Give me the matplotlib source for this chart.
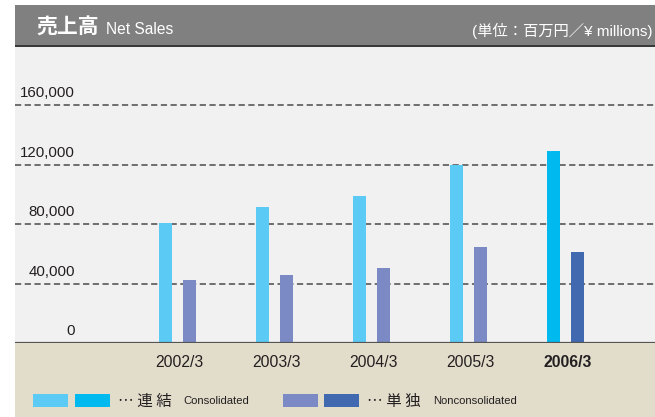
import matplotlib

matplotlib.use("Agg")
import matplotlib.pyplot as plt
from matplotlib.patches import Rectangle
from matplotlib.transforms import blended_transform_factory

# values (¥ millions)
years = ["2002/3", "2003/3", "2004/3", "2005/3", "2006/3"]
consolidated = [80500, 91500, 99000, 119500, 129000]
nonconsolidated = [42300, 45700, 50400, 64500, 61200]
y_ticks = [0, 40000, 80000, 120000, 160000]

CJK = ["Noto Sans CJK JP", "DejaVu Sans"]
LATIN = ["Liberation Sans", "Noto Sans CJK JP", "DejaVu Sans"]
TEXT = "#231f20"
CONS, CONS_LAST = "#5bcbf5", "#00b9ef"
NON, NON_LAST = "#7b8ac4", "#4169b0"

W, H = 655, 417
fig = plt.figure(figsize=(W / 100, H / 100), dpi=100)
fig.patch.set_facecolor("white")


def box(x0, y0, x1, y1):
    """Pixel box (top-left origin) -> figure fractions [l, b, w, h]."""
    return [x0 / W, 1 - y1 / H, (x1 - x0) / W, (y1 - y0) / H]


def add_rect(x0, y0, x1, y1, color, z=-1):
    l, b, w, h = box(x0, y0, x1, y1)
    fig.patches.append(Rectangle((l, b), w, h, transform=fig.transFigure,
                                 facecolor=color, edgecolor="none", zorder=z))


def fy(y):
    return 1 - y / H


# header band, plot panel and footer band
add_rect(15, 5, W, 45, "#808080")
add_rect(15, 44.5, W, 46.5, "#3a3a3a")
add_rect(15, 46.5, W, 343, "#f1f1f1")
add_rect(15, 343, W, H, "#e2dccb")

fig.text(36 / W, fy(27.5), "売上高", family=CJK, fontsize=15, weight="bold",
         color="white", va="center")
fig.text(106 / W, fy(29), "Net Sales", family=LATIN, fontsize=11.2,
         color="white", va="center")
fig.text(653 / W, fy(31), "(単位：百万円／¥ millions)", family=LATIN,
         fontsize=11, color="white", va="center", ha="right")

ax = fig.add_axes(box(15, 46.5, W, 343))
ax.set_facecolor("none")
for side in ax.spines.values():
    side.set_visible(False)

spacing_px = 97.0
first_px = 177.5
left = -(first_px - 15) / spacing_px
ax.set_xlim(left, left + 640 / spacing_px)
ax.set_ylim(0, 296.5 / 59.5 * 40000)
ax.set_xticks([])
ax.set_yticks([])

trans = blended_transform_factory(fig.transFigure, ax.transData)
for t in y_ticks:
    if t > 0:
        ax.axhline(t, color="#6e6e6e", linewidth=1.4, linestyle=(0, (3.2, 1.8)), zorder=1)
    ax.annotate(f"{t:,}", xy=(75 / W, t), xycoords=trans, xytext=(0, 8.5),
                textcoords="offset points", ha="right", va="center",
                family=LATIN, fontsize=10.8, color=TEXT)
ax.axhline(0, color="#555555", linewidth=1.6, zorder=3)

width = 13 / spacing_px
offset = 12 / spacing_px
last = len(years) - 1
for i, (c, n) in enumerate(zip(consolidated, nonconsolidated)):
    ax.bar(i - offset, c, width=width, color=CONS_LAST if i == last else CONS, zorder=2)
    ax.bar(i + offset, n, width=width, color=NON_LAST if i == last else NON, zorder=2)
    ax.annotate(years[i], xy=(i + 2 / spacing_px, 0), xycoords="data",
                xytext=(0, -14), textcoords="offset points", ha="center", va="center",
                family=LATIN, fontsize=11.3, color=TEXT,
                weight="bold" if i == last else "normal", annotation_clip=False)

# legend along the footer
for x0, col in [(33, CONS), (75, CONS_LAST), (283, NON), (324, NON_LAST)]:
    add_rect(x0, 394, x0 + 35, 407, col, z=1)
fig.text(118 / W, fy(401), "… 連 結", family=CJK, fontsize=11.2, color=TEXT, va="center")
fig.text(183 / W, fy(401), "Consolidated", family=LATIN, fontsize=8.1, color=TEXT, va="center")
fig.text(367 / W, fy(401), "… 単 独", family=CJK, fontsize=11.2, color=TEXT, va="center")
fig.text(433 / W, fy(401), "Nonconsolidated", family=LATIN, fontsize=8.1, color=TEXT, va="center")

fig.savefig("out.png", dpi=100)
